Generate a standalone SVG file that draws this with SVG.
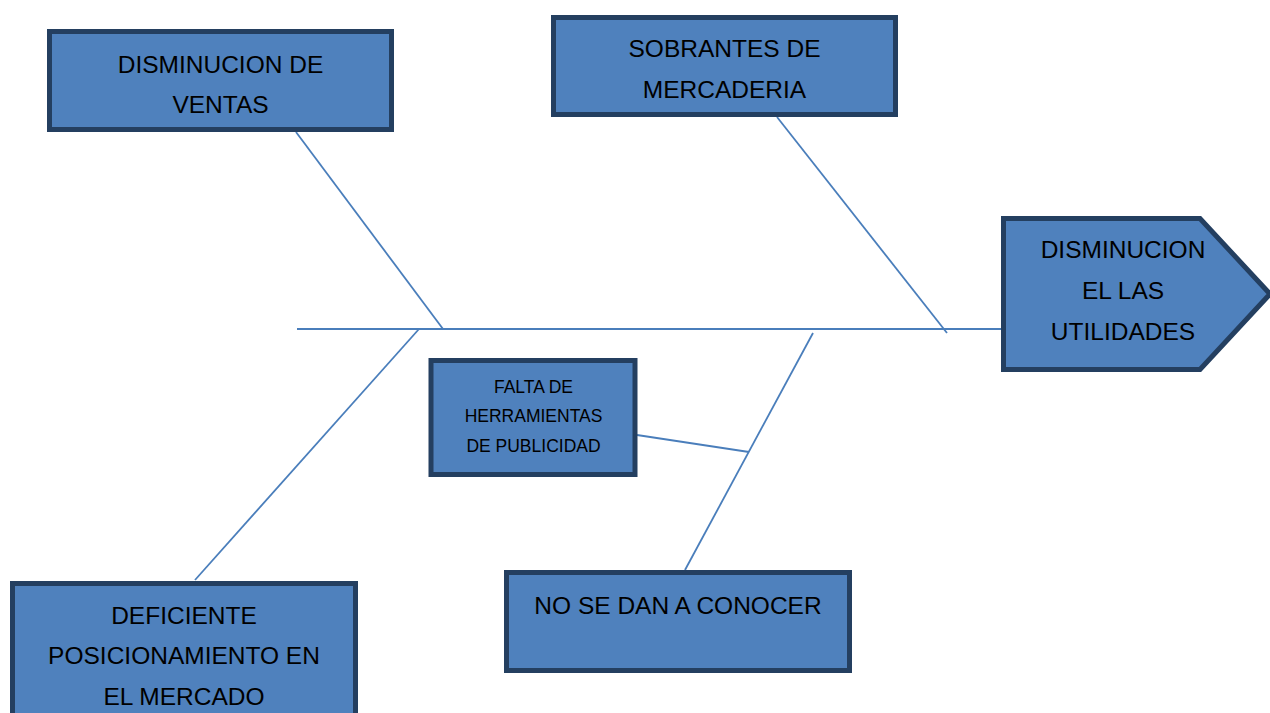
<svg xmlns="http://www.w3.org/2000/svg" width="1270" height="713" viewBox="0 0 1270 713">
<style>
.box{fill:#4f81bd;stroke:#243f60;stroke-width:5}
.ln{stroke:#4a7ebb;stroke-width:1.8;fill:none}
.t{font-family:"Liberation Sans",Arial,sans-serif;font-size:24.5px;fill:#000;text-anchor:middle}
.s{font-family:"Liberation Sans",Arial,sans-serif;font-size:17.5px;fill:#000;text-anchor:middle}
</style>
<rect width="1270" height="713" fill="#fff"/>
<g id="connectors">
<line class="ln" x1="297" y1="329" x2="1001" y2="329"/>
<line class="ln" x1="296" y1="132" x2="443" y2="329"/>
<line class="ln" x1="777" y1="117" x2="947" y2="333"/>
<line class="ln" x1="419" y1="329" x2="195" y2="580"/>
<line class="ln" x1="813" y1="333" x2="685" y2="570"/>
<line class="ln" x1="637" y1="435" x2="749" y2="452"/>
</g>
<g id="node-ventas">
<rect class="box" x="49.5" y="31.5" width="342" height="98"/>
<text class="t" x="220.5" y="73">DISMINUCION DE</text>
<text class="t" x="220.5" y="113">VENTAS</text>
</g>
<g id="node-sobrantes">
<rect class="box" x="553.5" y="17.5" width="342" height="97"/>
<text class="t" x="724.5" y="57">SOBRANTES DE</text>
<text class="t" x="724.5" y="98">MERCADERIA</text>
</g>
<g id="node-utilidades">
<polygon class="box" points="1003.5,218.5 1200,218.5 1270,294 1200,369.5 1003.5,369.5"/>
<text class="t" x="1123" y="258">DISMINUCION</text>
<text class="t" x="1123" y="299">EL LAS</text>
<text class="t" x="1123" y="340">UTILIDADES</text>
</g>
<g id="node-falta">
<rect class="box" x="431" y="360.5" width="204" height="114"/>
<text class="s" x="533.5" y="393">FALTA DE</text>
<text class="s" x="533.5" y="422">HERRAMIENTAS</text>
<text class="s" x="533.5" y="452">DE PUBLICIDAD</text>
</g>
<g id="node-conocer">
<rect class="box" x="506.5" y="572.5" width="343" height="98"/>
<text class="t" x="678" y="614">NO SE DAN A CONOCER</text>
</g>
<g id="node-deficiente">
<rect class="box" x="12.5" y="583.5" width="343" height="140"/>
<text class="t" x="184" y="624">DEFICIENTE</text>
<text class="t" x="184" y="664">POSICIONAMIENTO EN</text>
<text class="t" x="184" y="705">EL MERCADO</text>
</g>
</svg>
